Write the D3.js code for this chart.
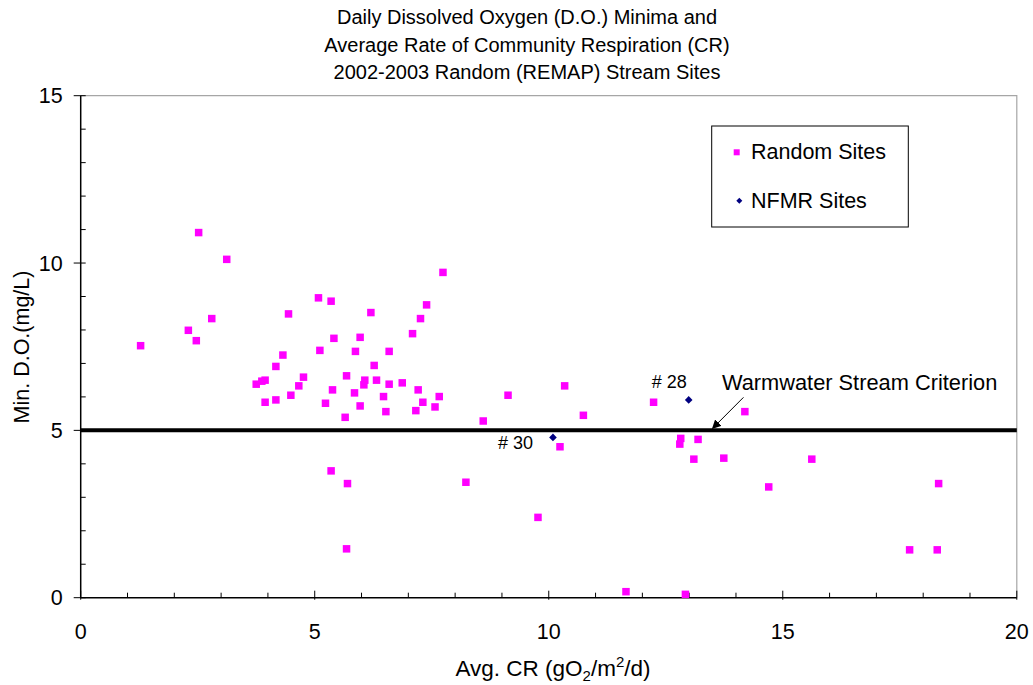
<!DOCTYPE html>
<html>
<head>
<meta charset="utf-8">
<script src="https://cdn.jsdelivr.net/npm/d3@7"></script>
<style>
    body { margin: 0; background: #fff; }
    text { font-family: Arial, "Liberation Sans", sans-serif; fill: #000; }
</style>
</head>
<body>
<div id="chart-container"></div>
<script>
// random (REMAP) sites: avg CR vs min D.O.
const randomCR = [2.52, 3.12, 7.74, 5.08, 5.35, 4.44, 6.20, 7.39, 7.26, 2.80, 2.30, 2.47, 5.41, 5.97, 7.09,
    1.28, 5.11, 5.87, 6.59, 4.32, 4.17, 6.27, 4.76, 5.68, 3.75, 3.87, 3.94, 6.07, 6.05, 6.32, 6.59, 6.87,
    4.66, 5.38, 5.85, 7.21, 4.49, 6.47, 7.66, 3.94, 4.17, 5.23, 5.97, 7.31, 6.52, 7.16, 7.57, 5.65,
    9.13, 10.34, 8.60, 10.74, 12.24, 14.19, 10.24, 12.82, 12.80, 13.19, 13.10, 13.74, 15.62,
    8.23, 14.70, 18.33, 9.77, 17.71, 18.30, 11.65, 12.92, 5.35, 5.70, 5.68];
const randomDO = [10.91, 10.11, 9.72, 8.96, 8.86, 8.48, 8.52, 8.75, 8.34, 8.34, 7.99, 7.68, 7.75, 7.78, 7.89,
    7.53, 7.39, 7.36, 7.36, 7.25, 6.91, 6.94, 6.59, 6.63, 6.38, 6.47, 6.50, 6.50, 6.36, 6.50, 6.38, 6.42,
    6.33, 6.21, 6.12, 6.21, 6.05, 6.01, 6.01, 5.84, 5.91, 5.81, 5.73, 5.84, 5.56, 5.59, 5.70, 5.39,
    6.05, 6.33, 5.28, 5.45, 5.84, 5.56, 4.51, 4.76, 4.59, 4.73, 4.14, 4.17, 4.14,
    3.45, 3.31, 3.41, 2.40, 1.43, 1.43, 0.18, 0.10, 3.79, 3.41, 1.46];

// NFMR sites
const nfmrCR = [10.09, 12.99];
const nfmrDO = [4.79, 5.91];
const nfmrLabels = ['# 30', '# 28'];

const criterion = 5;
const criterionLabel = 'Warmwater Stream Criterion';

const xTicks = [0, 5, 10, 15, 20];
const yTicks = [0, 5, 10, 15];
const titleLines = [
    'Daily Dissolved Oxygen (D.O.) Minima and',
    'Average Rate of Community Respiration (CR)',
    '2002-2003 Random (REMAP) Stream Sites'
];

const width = 1033, height = 685;
const margin = {top: 95.7, right: 16.2, bottom: 87.3, left: 80.7};

const svg = d3.select('#chart-container').append('svg')
    .attr('width', width)
    .attr('height', height);

const x = d3.scaleLinear().domain([0, 20]).range([margin.left, width - margin.right]);
const y = d3.scaleLinear().domain([0, 15]).range([height - margin.bottom, margin.top]);

// title
svg.append('g').selectAll('text')
    .data(titleLines)
    .enter()
    .append('text')
    .attr('x', 527)
    .attr('y', (d, i) => 24 + i * 27.5)
    .attr('text-anchor', 'middle')
    .style('font-size', '20px')
    .text(d => d);

// plot frame (top/right in grey)
svg.append('path')
    .attr('d', `M${x(0)},${y(15)}H${x(20)}V${y(0)}`)
    .style('fill', 'none')
    .style('stroke', '#a6a6a6')
    .style('stroke-width', 1.2);

// y axis
const yAxisG = svg.append('g').attr('transform', `translate(${x(0)},0)`);
yAxisG.append('line')
    .attr('y1', y(0)).attr('y2', y(15))
    .style('stroke', '#000').style('stroke-width', 1.5);
yAxisG.selectAll('.minor')
    .data(d3.range(0, 16))
    .enter()
    .append('line')
    .attr('x1', d => yTicks.includes(d) ? -7 : 0)
    .attr('x2', 5)
    .attr('y1', d => y(d)).attr('y2', d => y(d))
    .style('stroke', '#000').style('stroke-width', 1);
yAxisG.selectAll('.lbl')
    .data(yTicks)
    .enter()
    .append('text')
    .attr('x', -18)
    .attr('y', d => y(d) + 7.5)
    .attr('text-anchor', 'end')
    .style('font-size', '21.5px')
    .text(d => d);

// x axis
const xAxisG = svg.append('g').attr('transform', `translate(0,${y(0)})`);
xAxisG.append('line')
    .attr('x1', x(0)).attr('x2', x(20))
    .style('stroke', '#000').style('stroke-width', 1.5);
xAxisG.selectAll('.minor')
    .data(d3.range(0, 21))
    .enter()
    .append('line')
    .attr('x1', d => x(d)).attr('x2', d => x(d))
    .attr('y1', d => xTicks.includes(d) ? -7 : -5)
    .attr('y2', d => xTicks.includes(d) ? 2 : 0)
    .style('stroke', '#000').style('stroke-width', 1);
xAxisG.selectAll('.lbl')
    .data(xTicks)
    .enter()
    .append('text')
    .attr('x', d => x(d))
    .attr('y', 41)
    .attr('text-anchor', 'middle')
    .style('font-size', '21.5px')
    .text(d => d);

// axis titles
const xTitle = svg.append('text')
    .attr('x', 553)
    .attr('y', 676)
    .attr('text-anchor', 'middle')
    .style('font-size', '22.5px');
xTitle.append('tspan').text('Avg. CR (gO');
xTitle.append('tspan').attr('dy', 5).style('font-size', '15px').text('2');
xTitle.append('tspan').attr('dy', -5).text('/m');
xTitle.append('tspan').attr('dy', -9).style('font-size', '15px').text('2');
xTitle.append('tspan').attr('dy', 9).text('/d)');

svg.append('text')
    .attr('transform', 'translate(29,347) rotate(-90)')
    .attr('text-anchor', 'middle')
    .style('font-size', '21.5px')
    .text('Min. D.O.(mg/L)');

// criterion line
svg.append('line')
    .attr('x1', x(0)).attr('x2', x(20))
    .attr('y1', y(criterion)).attr('y2', y(criterion))
    .style('stroke', '#000')
    .style('stroke-width', 4);

svg.append('text')
    .attr('x', x(13.7))
    .attr('y', y(criterion) - 40)
    .style('font-size', '21.8px')
    .text(criterionLabel);

// arrow to the line
svg.append('defs').append('marker')
    .attr('id', 'arrow')
    .attr('viewBox', '0 0 10 10')
    .attr('refX', 9).attr('refY', 5)
    .attr('markerWidth', 9).attr('markerHeight', 9)
    .attr('orient', 'auto')
    .append('path')
    .attr('d', 'M0,0L10,5L0,10z')
    .style('fill', '#000');
svg.append('line')
    .attr('x1', x(14.16)).attr('y1', y(criterion) - 33)
    .attr('x2', x(13.5)).attr('y2', y(criterion) - 2)
    .style('stroke', '#000')
    .style('stroke-width', 1)
    .attr('marker-end', 'url(#arrow)');

// random sites
const randomPts = randomCR.map((cr, i) => ({cr, d: randomDO[i]}));
const sq = 7.5;
svg.append('g').selectAll('rect')
    .data(randomPts)
    .enter()
    .append('rect')
    .attr('x', d => x(d.cr) - sq / 2)
    .attr('y', d => y(d.d) - sq / 2)
    .attr('width', sq)
    .attr('height', sq)
    .style('fill', '#ff00ff');

// NFMR sites
const diamond = r => `M0,${-r}L${r},0L0,${r}L${-r},0Z`;
const nfmrPts = nfmrCR.map((cr, i) => ({cr, d: nfmrDO[i], label: nfmrLabels[i]}));
const nfmr = svg.append('g').selectAll('g')
    .data(nfmrPts)
    .enter()
    .append('g')
    .attr('transform', d => `translate(${x(d.cr)},${y(d.d)})`);
nfmr.append('path')
    .attr('d', diamond(3.8))
    .style('fill', '#000080');
nfmr.append('text')
    .attr('x', d => d.d > criterion ? -2 : -20)
    .attr('y', d => d.d > criterion ? -12 : 12)
    .attr('text-anchor', 'end')
    .style('font-size', '18px')
    .text(d => d.label);

// legend
const legend = svg.append('g').attr('transform', 'translate(711.7,126)');
legend.append('rect')
    .attr('width', 196.6).attr('height', 101)
    .style('fill', '#fff')
    .style('stroke', '#000')
    .style('stroke-width', 1);
legend.append('rect')
    .attr('x', 22).attr('y', 23.3)
    .attr('width', 6).attr('height', 6)
    .style('fill', '#ff00ff');
legend.append('path')
    .attr('transform', 'translate(27.6,74.7)')
    .attr('d', diamond(3))
    .style('fill', '#000080');
legend.append('text')
    .attr('x', 39.3).attr('y', 33.3)
    .style('font-size', '21.5px')
    .text('Random Sites');
legend.append('text')
    .attr('x', 39.3).attr('y', 82)
    .style('font-size', '21.5px')
    .text('NFMR Sites');
</script>
</body>
</html>
